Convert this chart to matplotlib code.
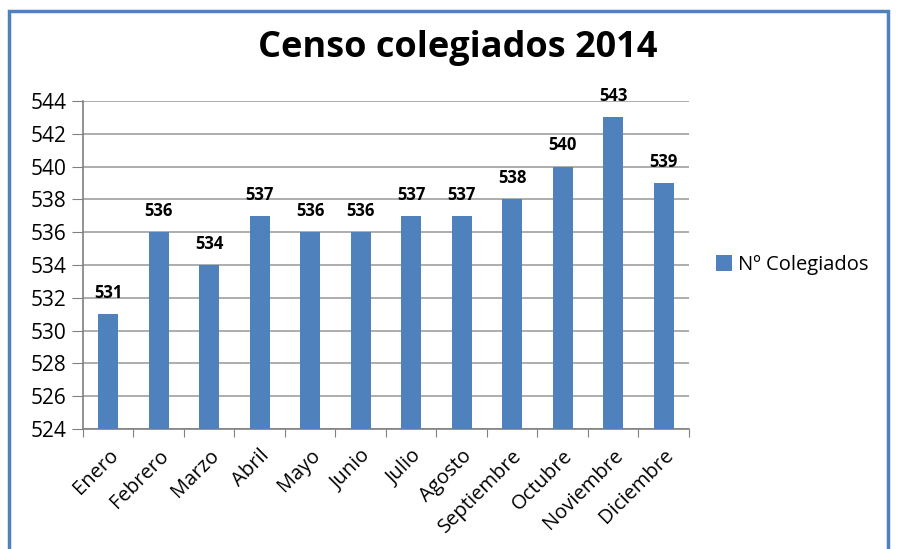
import matplotlib.pyplot as plt
from matplotlib.patches import Rectangle

meses = ['Enero', 'Febrero', 'Marzo', 'Abril', 'Mayo', 'Junio', 'Julio',
         'Agosto', 'Septiembre', 'Octubre', 'Noviembre', 'Diciembre']
colegiados = [531, 536, 534, 537, 536, 536, 537, 537, 538, 540, 543, 539]
yticks = list(range(524, 545, 2))

plt.rcParams['font.family'] = ['Open Sans', 'DejaVu Sans']

fig = plt.figure(figsize=(8.97, 5.49), dpi=100)
ax = fig.add_axes([0.0925, 0.2186, 0.6755, 0.5974])

x = range(len(meses))
bars = ax.bar(x, colegiados, width=0.4, color='#4F81BD', label='Nº Colegiados', zorder=3)
for xi, v in zip(x, colegiados):
    ax.text(xi, v + 0.75, str(v), ha='center', va='bottom', fontsize=12, fontweight='bold')

ax.set_xlim(-0.5, len(meses) - 0.5)
ax.set_ylim(524, 544)
ax.set_yticks(yticks)
ax.tick_params(axis='y', labelsize=15, length=8, color='#808080', pad=4)
ax.set_xticks([i - 0.5 for i in range(len(meses) + 1)], minor=False)
ax.set_xticklabels([])
ax.set_xticks(list(x), minor=True)
ax.set_xticklabels(meses, minor=True, rotation=45, ha='right', rotation_mode='anchor', fontsize=14.5)
ax.tick_params(axis='x', which='major', length=6, color='#808080')
ax.tick_params(axis='x', which='minor', length=0, pad=12)
ax.grid(axis='y', color='#A0A0A0', linewidth=1.2, zorder=0)
for s in ['top', 'right']:
    ax.spines[s].set_visible(False)
for s in ['left', 'bottom']:
    ax.spines[s].set_color('#808080')
    ax.spines[s].set_linewidth(1.2)

fig.text(0.51, 0.912, 'Censo colegiados 2014', ha='center', va='center',
         fontsize=26, fontweight='bold')

ax.legend(loc='center left', bbox_to_anchor=(1.015, 0.5), frameon=False,
          fontsize=14.5, handlelength=0.8, handleheight=0.8, handletextpad=0.3)

fig.patches.append(Rectangle((9 / 897, -0.05), 879 / 897, 1.05 - 11 / 549,
                             transform=fig.transFigure, fill=False,
                             edgecolor='#4F81BD', linewidth=2.5))

fig.savefig('out.png', dpi=100)
